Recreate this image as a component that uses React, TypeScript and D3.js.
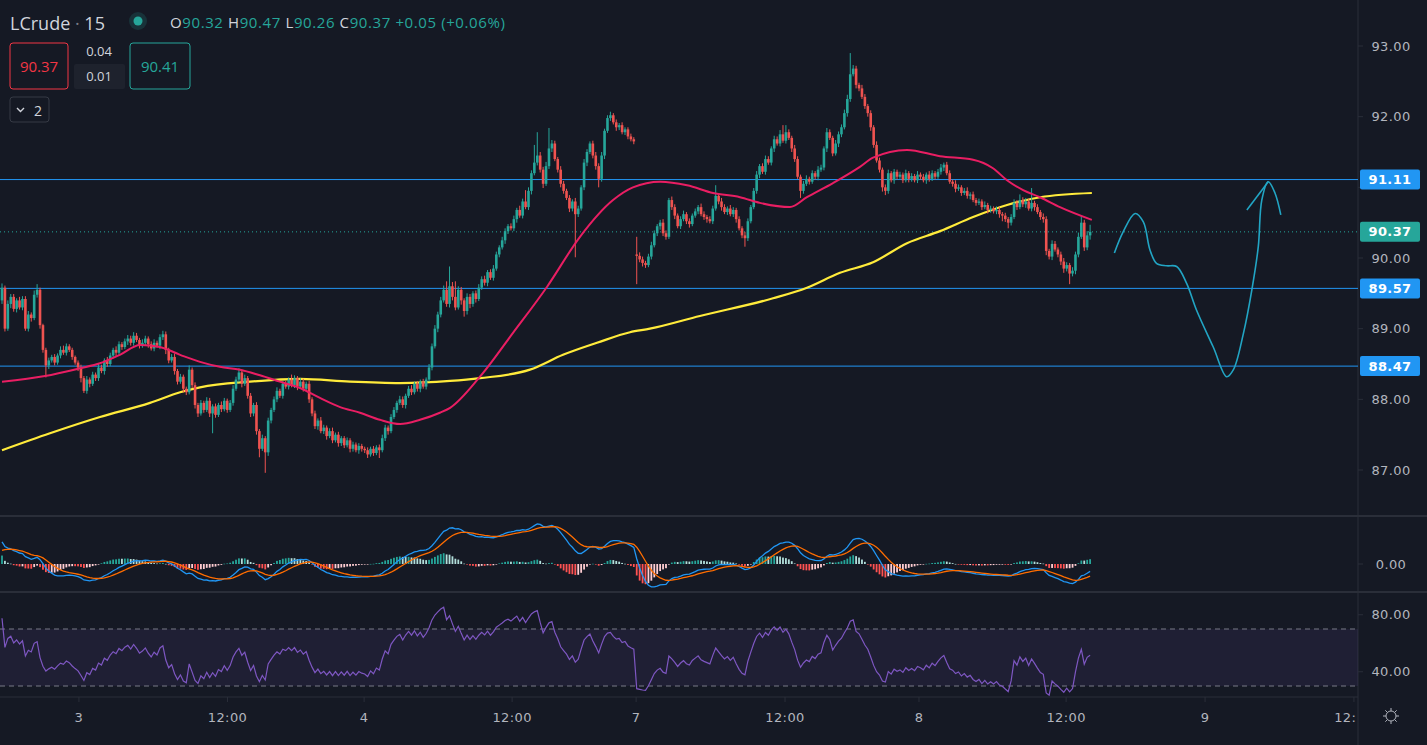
import * as React from 'react';
import * as d3 from 'd3';

// 15 min bars, one array per session (close, upper wick and lower wick in cents)
const firstOpen = 89.40;
const mondayOpen = 90.05;

const day2Close = [
  89.58, 89.00, 89.35, 89.45, 89.28, 89.40, 89.30, 89.42, 89.00, 89.20,
  89.15, 89.48, 89.55, 89.05, 88.70, 88.48, 88.55, 88.60, 88.52, 88.62,
  88.70, 88.66, 88.75, 88.70, 88.60, 88.52, 88.45];
const day2Up = [6,3,5,4,4,3,5,4,4,5, 3,6,8,3,2,3,4,3,4,3, 5,6,4,3,3,2,3];
const day2Down = [5,4,3,6,4,5,3,4,3,4, 5,3,4,5,4,17,5,3,4,3, 4,3,4,3,4,3,5];

const day3Close = [
  88.30, 88.12, 88.28, 88.22, 88.35, 88.30, 88.45, 88.40, 88.55, 88.50,
  88.62, 88.70, 88.66, 88.78, 88.74, 88.82, 88.86, 88.80, 88.90, 88.84,
  88.76, 88.80, 88.86, 88.78, 88.72, 88.80, 88.76, 88.88, 88.92, 88.70,
  88.55, 88.60, 88.40, 88.25, 88.32, 88.15, 88.10, 88.42, 88.20, 87.92,
  87.80, 87.95, 87.85, 87.98, 87.80, 87.90, 87.78, 87.92, 87.86, 87.98,
  87.85, 87.95, 88.15, 88.28, 88.38, 88.22, 88.30, 88.05, 87.80, 87.92,
  87.55, 87.30, 87.45, 87.25, 87.70, 87.85, 88.00, 88.12, 88.05, 88.22,
  88.18, 88.28, 88.20, 88.30, 88.18, 88.25, 88.15, 88.22, 88.00, 87.80,
  87.62, 87.70, 87.55, 87.60, 87.48, 87.55, 87.42, 87.50, 87.38, 87.45,
  87.35, 87.42, 87.30, 87.36, 87.28, 87.34, 87.30];
const day3Up = [
  4,3,5,3,4,3,5,4,3,5, 4,3,5,4,3,4,5,4,5,4, 3,5,4,3,4,5,3,4,5,4,
  3,4,5,3,4,3,3,6,3,4, 3,4,3,5,4,3,4,3,5,4, 3,4,5,4,6,4,5,3,4,3,
  4,3,5,3,4,3,4,5,3,4, 4,3,7,4,3,5,4,3,4,3, 4,3,5,4,3,4,5,3,4,3,
  3,4,3,4,3,4,3];
const day3Down = [
  6,3,4,5,3,4,4,3,5,4, 3,4,5,3,4,3,5,4,4,3, 4,3,4,5,3,4,3,5,4,6,
  4,3,5,4,3,5,4,3,4,5, 5,3,4,3,5,28,4,3,4,3, 4,3,4,3,4,5,3,4,5,4,
  5,12,3,29,5,4,3,4,3,4, 3,4,3,4,5,3,4,3,5,4, 4,5,3,4,5,3,4,3,5,4,
  4,3,5,4,3,5,4];

const day4Close = [
  87.28, 87.22, 87.30, 87.24, 87.32, 87.28, 87.45, 87.60, 87.55, 87.75,
  87.85, 87.95, 88.00, 87.92, 88.05, 88.15, 88.10, 88.22, 88.15, 88.25,
  88.18, 88.28, 88.45, 88.75, 89.00, 89.20, 89.40, 89.55, 89.35, 89.60,
  89.45, 89.30, 89.55, 89.40, 89.25, 89.45, 89.35, 89.50, 89.42, 89.58,
  89.70, 89.65, 89.80, 89.72, 89.85, 90.05, 90.15, 90.25, 90.38, 90.45,
  90.42, 90.55, 90.68, 90.60, 90.80, 90.72, 90.95, 91.20, 91.35, 91.45,
  91.25, 91.05, 91.30, 91.55, 91.62, 91.40, 91.25, 91.05, 90.95, 90.85,
  90.70, 90.80, 90.62, 90.70, 91.00, 91.35, 91.50, 91.62, 91.45, 91.30,
  91.12, 91.45, 91.80, 91.98, 92.02, 91.92, 91.85, 91.88, 91.78, 91.82,
  91.72, 91.68, 91.65];
const day4Up = [
  3,4,3,4,3,4,5,4,3,4, 4,3,5,4,3,4,5,3,4,3, 4,3,5,4,5,4,5,6,12,28,
  6,22,5,4,3,5,4,3,4,5, 4,5,3,4,5,4,3,5,4,3, 4,5,3,6,4,16,5,4,25,33,
  5,4,6,29,5,4,3,5,4,3, 4,3,5,4,3,5,4,3,4,5, 4,5,3,4,5,3,4,3,4,3,
  3,4,3];
const day4Down = [
  4,5,3,4,3,11,3,4,5,3, 3,4,3,4,5,3,4,3,4,5, 3,4,3,4,3,5,4,3,4,5,
  5,4,3,6,8,5,6,4,5,3, 3,4,5,3,4,3,4,3,5,4, 3,4,5,3,4,3,4,5,3,4,
  4,6,3,4,5,3,4,5,4,3, 5,4,61,4,3,4,5,3,4,5, 12,4,5,3,4,3,5,4,3,4,
  4,3,4];

const day7Close = [
  90.03, 89.98, 89.93, 89.90, 90.02, 90.18, 90.35, 90.45, 90.50, 90.35,
  90.30, 90.82, 90.72, 90.60, 90.45, 90.55, 90.62, 90.52, 90.48, 90.60,
  90.66, 90.72, 90.62, 90.58, 90.55, 90.52, 90.70, 90.88, 90.80, 90.72,
  90.65, 90.70, 90.62, 90.68, 90.55, 90.42, 90.32, 90.28, 90.52, 90.72,
  90.95, 91.18, 91.30, 91.22, 91.40, 91.35, 91.55, 91.68, 91.62, 91.75,
  91.66, 91.78, 91.70, 91.55, 91.40, 91.15, 90.95, 91.05, 91.12, 91.08,
  91.20, 91.15, 91.25, 91.28, 91.55, 91.78, 91.70, 91.48, 91.62, 91.75,
  91.85, 92.05, 92.25, 92.60, 92.68, 92.45, 92.40, 92.28, 92.15, 92.05,
  91.85, 91.60, 91.38, 91.25, 91.00, 90.95, 91.20, 91.10, 91.22, 91.15,
  91.18, 91.10, 91.20, 91.12, 91.16, 91.10, 91.18];
const day7Up = [
  25,5,4,3,4,5,4,3,4,5, 4,3,5,4,3,4,5,3,4,3, 4,3,5,4,3,4,4,15,3,5,
  4,3,5,4,3,4,3,5,4,3, 4,5,3,4,5,4,3,5,4,6, 13,10,4,3,5,4,3,4,5,3,
  4,3,5,4,3,6,4,3,5,4, 4,5,6,30,5,4,3,5,4,3, 4,3,5,4,3,4,5,3,4,3,
  4,3,5,3,4,3,5];
const day7Down = [
  40,4,5,4,3,4,3,4,5,4, 4,3,4,5,3,4,3,4,5,3, 3,4,3,4,5,3,4,3,4,5,
  3,4,3,4,5,3,4,12,4,3, 3,4,5,3,4,3,4,5,3,4, 3,4,3,5,4,3,10,4,3,4,
  3,4,5,3,4,5,3,4,3,5, 4,3,5,4,3,5,4,3,4,5, 5,4,3,4,6,6,4,3,5,4,
  3,4,3,5,4,3,4];

const day8Close = [
  91.15, 91.10, 91.18, 91.12, 91.20, 91.15, 91.22, 91.28, 91.32, 91.20,
  91.08, 91.05, 90.98, 91.00, 90.92, 90.95, 90.88, 90.90, 90.82, 90.78,
  90.80, 90.72, 90.75, 90.68, 90.70, 90.66, 90.68, 90.62, 90.60, 90.55,
  90.50, 90.58, 90.78, 90.72, 90.82, 90.76, 90.80, 90.70, 90.78, 90.72,
  90.65, 90.58, 90.55, 90.10, 90.02, 90.20, 90.12, 90.05, 89.95, 89.85,
  89.90, 89.78, 89.82, 90.05, 90.30, 90.50, 90.15, 90.32, 90.37];
const day8Up = [
  3,4,3,5,4,3,4,5,3,4, 4,3,5,4,3,4,5,3,4,3, 4,3,5,3,4,3,5,4,3,4,
  3,4,5,4,8,4,5,4,21,3, 4,3,5,4,3,5,4,3,4,5, 4,3,5,4,6,10,4,6,10];
const day8Down = [
  4,3,5,4,3,4,3,4,5,3, 3,4,5,3,4,3,4,5,3,4, 3,4,3,5,4,3,4,5,8,4,
  8,4,3,4,3,4,5,3,4,5, 3,4,5,6,4,5,3,4,5,6, 4,15,4,5,4,3,5,4,6];

// moving averages: [bar index, price]
const emaFast: [number, number][] = [
  [0, 88.25], [14.7, 88.33], [26.7, 88.44], [33.5, 88.51], [40.3, 88.63], [47.2, 88.77],
  [54, 88.74], [60.9, 88.63], [67.7, 88.53], [74.5, 88.46], [81.4, 88.42], [88.2, 88.34],
  [95, 88.25], [101.9, 88.16], [108.7, 88.02], [115.6, 87.89], [122.4, 87.81], [129.2, 87.71],
  [136.1, 87.65], [142.9, 87.71], [149.7, 87.81], [153.2, 87.88], [163.4, 88.32], [174.7, 88.94],
  [186.3, 89.59], [197.6, 90.30], [208.9, 90.82], [215.7, 91.0], [225, 91.08], [234.2, 91.03],
  [243.1, 90.92], [252.3, 90.86], [259.1, 90.78], [269.4, 90.72], [275.2, 90.86], [284.1, 91.06],
  [293.3, 91.29], [297.8, 91.42], [309.4, 91.53], [320.7, 91.44], [332, 91.39], [338.8, 91.27],
  [343.6, 91.10], [349.1, 90.96], [354.9, 90.86], [361.7, 90.72], [372.6, 90.54]];
const emaSlow: [number, number][] = [
  [0, 87.28], [16.4, 87.52], [33.5, 87.75], [50.6, 87.95], [60.9, 88.10], [67.7, 88.17],
  [84.8, 88.25], [101.9, 88.29], [119, 88.25], [136.1, 88.23], [153.2, 88.26], [163.4, 88.30],
  [180.5, 88.42], [191.8, 88.63], [203.4, 88.80], [214.7, 88.95], [221.5, 89.0], [238.6, 89.18],
  [263.6, 89.43], [275.2, 89.58], [286.5, 89.79], [297.8, 89.94], [309.4, 90.21], [320.7, 90.38],
  [332, 90.58], [343.6, 90.75], [354.9, 90.86], [372.6, 90.92]];

// hand drawn forecast
const sketch: [number, number][] = [
  [380.3, 90.07], [383.3, 90.37], [387.4, 90.63], [390.2, 90.51], [392.5, 90.11], [394.8, 89.92],
  [398.2, 89.89], [401.6, 89.88], [405.0, 89.64], [408.4, 89.26], [414.1, 88.74], [418.7, 88.32],
  [421.0, 88.42], [424.4, 88.93], [427.3, 89.55], [429.5, 90.16], [430.7, 90.82], [432.9, 91.08],
  [435.2, 90.92], [437.2, 90.61]];
const sketchArrow: [number, number][] = [[425.6, 90.68], [432.9, 91.08]];

const levels = [91.11, 89.57, 88.47];
const lastPrice = 90.37;
const priceTicks = [87, 88, 89, 90, 91, 92, 93];
const rsiTicks = [80, 40];
const rsiBands = [70, 30];
const timeTicks: [number, string][] = [
  [26.3, '3'], [77.1, '12:00'], [123.8, '4'], [174.4, '12:00'], [216.8, '7'],
  [267.7, '12:00'], [313.5, '8'], [363.8, '12:00'], [411.3, '9'], [462.2, '12:00']];

// indicator seeds (state before the first visible bar)
const macdSeed = [89.45, 89.15, 0.15];
const rsiSeed = [0.09, 0.03];

const BG = '#151924';
const GRID = '#2a2e39';
const UP = '#26a69a';
const DOWN = '#ef5350';
const TEXT = '#b2b5be';
const AXIS_FONT = '"DejaVu Sans", sans-serif';
const UI_FONT = '"Open Sans", sans-serif';

const W = 1427;
const H = 745;
const AXIS_X = 1358;
const PRICE_BOTTOM = 516;
const MACD_TOP = 517;
const MACD_BOTTOM = 592;
const RSI_TOP = 593;
const RSI_BOTTOM = 697;

type Bar = { i: number; o: number; h: number; l: number; c: number };

const sessions = [
  { open: firstOpen, close: day2Close, up: day2Up, down: day2Down },
  { open: null, close: day3Close, up: day3Up, down: day3Down },
  { open: null, close: day4Close, up: day4Up, down: day4Down },
  { open: mondayOpen, close: day7Close, up: day7Up, down: day7Down },
  { open: null, close: day8Close, up: day8Up, down: day8Down },
];

function buildBars(): Bar[] {
  const out: Bar[] = [];
  let prev = firstOpen;
  sessions.forEach((s) => {
    s.close.forEach((c, k) => {
      const o = k === 0 && s.open != null ? s.open : prev;
      out.push({
        i: out.length, o, c,
        h: Math.max(o, c) + s.up[k] / 100,
        l: Math.min(o, c) - s.down[k] / 100,
      });
      prev = c;
    });
  });
  return out;
}

const App: React.FC = () => {
  const bars = React.useMemo(buildBars, []);

  const x = d3.scaleLinear().domain([0, 464]).range([2, 2 + 464 * 2.925]);
  const y = d3.scaleLinear().domain([87, 93]).range([470, 46]);
  const yRsi = d3.scaleLinear().domain([30, 70]).range([686, 629]);

  // MACD 12/26/9 and RSI 14 from the closes
  const ind = React.useMemo(() => {
    let e12 = macdSeed[0], e26 = macdSeed[1], sig = macdSeed[2];
    let ag = rsiSeed[0], al = rsiSeed[1];
    let prev = firstOpen;
    return bars.map((b) => {
      e12 += (2 / 13) * (b.c - e12);
      e26 += (2 / 27) * (b.c - e26);
      const m = e12 - e26;
      sig += (2 / 10) * (m - sig);
      const ch = b.c - prev;
      ag = (ag * 13 + Math.max(ch, 0)) / 14;
      al = (al * 13 + Math.max(-ch, 0)) / 14;
      prev = b.c;
      return { i: b.i, macd: m, signal: sig, hist: m - sig, rsi: 100 - 100 / (1 + ag / al) };
    });
  }, [bars]);

  const macdMax = d3.max(ind, (d) => Math.max(d.macd, d.signal)) as number;
  const yMacd = d3.scaleLinear().domain([0, macdMax]).range([564, 524]);

  const maLine = d3.line<[number, number]>().x((d) => x(d[0])).y((d) => y(d[1])).curve(d3.curveMonotoneX);
  const sketchLine = d3.line<[number, number]>().x((d) => x(d[0])).y((d) => y(d[1])).curve(d3.curveCatmullRom);
  const indLine = (key: 'macd' | 'signal') =>
    d3.line<typeof ind[number]>().x((d) => x(d.i)).y((d) => yMacd(d[key]))(ind) || '';
  const rsiLine = d3.line<typeof ind[number]>().x((d) => x(d.i)).y((d) => yRsi(d.rsi))(ind) || '';

  const histColor = (k: number) => {
    const h = ind[k].hist;
    const p = k > 0 ? ind[k - 1].hist : h;
    if (h >= 0) return h >= p ? '#26a69a' : '#b2dfdb';
    return h < p ? '#ff5252' : '#ffcdd2';
  };

  // axis labels hidden behind a price tag
  const tags = [...levels, lastPrice];
  const visibleTicks = priceTicks.filter((p) => tags.every((t) => Math.abs(y(p) - y(t)) > 15));

  const gear = d3.range(8).map((k) => (k * Math.PI) / 4);

  return (
    <svg width={W} height={H} style={{ position: 'fixed', left: 0, top: 0, display: 'block', background: BG }}>
      <defs>
        <clipPath id="pricePane"><rect x={0} y={0} width={AXIS_X} height={PRICE_BOTTOM} /></clipPath>
        <clipPath id="macdPane"><rect x={0} y={MACD_TOP} width={AXIS_X} height={MACD_BOTTOM - MACD_TOP} /></clipPath>
        <clipPath id="rsiPane"><rect x={0} y={RSI_TOP} width={AXIS_X} height={RSI_BOTTOM - RSI_TOP} /></clipPath>
        <clipPath id="timeAxis"><rect x={0} y={RSI_BOTTOM} width={AXIS_X - 2} height={H - RSI_BOTTOM} /></clipPath>
      </defs>
      <rect width={W} height={H} fill={BG} />

      {/* pane separators */}
      <line x1={0} x2={W} y1={PRICE_BOTTOM} y2={PRICE_BOTTOM} stroke={GRID} strokeWidth={2} />
      <line x1={0} x2={W} y1={MACD_BOTTOM} y2={MACD_BOTTOM} stroke={GRID} strokeWidth={2} />
      <line x1={0} x2={AXIS_X} y1={RSI_BOTTOM} y2={RSI_BOTTOM} stroke={GRID} />
      <line x1={AXIS_X} x2={AXIS_X} y1={0} y2={H} stroke={GRID} />

      {/* price pane */}
      <g clipPath="url(#pricePane)">
        {levels.map((p) => (
          <line key={p} x1={0} x2={AXIS_X} y1={y(p)} y2={y(p)} stroke="#2196f3" strokeWidth={1} />
        ))}
        <line x1={0} x2={AXIS_X} y1={y(lastPrice)} y2={y(lastPrice)} stroke={UP} strokeDasharray="1 3" />
        <path d={maLine(emaSlow) || ''} fill="none" stroke="#ffeb3b" strokeWidth={2.2} />
        {bars.map((b) => {
          const col = b.c >= b.o ? UP : DOWN;
          const top = y(Math.max(b.o, b.c));
          const bot = y(Math.min(b.o, b.c));
          return (
            <g key={b.i}>
              <line x1={x(b.i)} x2={x(b.i)} y1={y(b.h)} y2={y(b.l)} stroke={col} strokeWidth={1} />
              <rect x={x(b.i) - 1.3} y={top} width={2.6} height={Math.max(1, bot - top)} fill={col} />
            </g>
          );
        })}
        <path d={maLine(emaFast) || ''} fill="none" stroke="#e91e63" strokeWidth={2} />
        <path d={sketchLine(sketch) || ''} fill="none" stroke="#22a5c4" strokeWidth={1.6} />
        <path d={sketchLine(sketchArrow) || ''} fill="none" stroke="#22a5c4" strokeWidth={1.6} />
      </g>

      {/* MACD pane */}
      <g clipPath="url(#macdPane)">
        {ind.map((d, k) => (
          <rect key={d.i} x={x(d.i) - 0.9} width={1.8}
            y={Math.min(yMacd(0), yMacd(d.hist))} height={Math.max(0.6, Math.abs(yMacd(d.hist) - yMacd(0)))}
            fill={histColor(k)} />
        ))}
        <path d={indLine('macd')} fill="none" stroke="#2196f3" strokeWidth={1.3} />
        <path d={indLine('signal')} fill="none" stroke="#ff6d00" strokeWidth={1.3} />
      </g>

      {/* RSI pane */}
      <g clipPath="url(#rsiPane)">
        <rect x={0} width={AXIS_X} y={yRsi(rsiBands[0])} height={yRsi(rsiBands[1]) - yRsi(rsiBands[0])} fill="#7e57c2" fillOpacity={0.1} />
        {rsiBands.map((v) => (
          <line key={v} x1={0} x2={AXIS_X} y1={yRsi(v)} y2={yRsi(v)} stroke="#787b86" strokeDasharray="5 4" />
        ))}
        <path d={rsiLine} fill="none" stroke="#7e57c2" strokeWidth={1.2} />
      </g>

      {/* right axis */}
      <g fontFamily={AXIS_FONT} fontSize={13} fill={TEXT} letterSpacing={0.4}>
        {priceTicks.map((p) => (
          <line key={p} x1={AXIS_X} x2={AXIS_X + 5} y1={y(p)} y2={y(p)} stroke={GRID} />
        ))}
        {visibleTicks.map((p) => (
          <text key={p} x={1391} y={y(p)} textAnchor="middle" dominantBaseline="central">{p.toFixed(2)}</text>
        ))}
        <line x1={AXIS_X} x2={AXIS_X + 5} y1={yMacd(0)} y2={yMacd(0)} stroke={GRID} />
        <text x={1391} y={yMacd(0)} textAnchor="middle" dominantBaseline="central">0.00</text>
        {rsiTicks.map((v) => (
          <g key={v}>
            <line x1={AXIS_X} x2={AXIS_X + 5} y1={yRsi(v)} y2={yRsi(v)} stroke={GRID} />
            <text x={1391} y={yRsi(v)} textAnchor="middle" dominantBaseline="central">{v.toFixed(2)}</text>
          </g>
        ))}
        {levels.map((p) => (
          <g key={p}>
            <rect x={AXIS_X + 2} y={y(p) - 10} width={60} height={20} rx={2} fill="#2196f3" />
            <text x={1390} y={y(p)} textAnchor="middle" dominantBaseline="central" fill="#fff" fontWeight="bold">{p.toFixed(2)}</text>
          </g>
        ))}
        <rect x={AXIS_X + 2} y={y(lastPrice) - 10} width={60} height={20} rx={2} fill={UP} />
        <text x={1390} y={y(lastPrice)} textAnchor="middle" dominantBaseline="central" fill="#fff" fontWeight="bold">{lastPrice.toFixed(2)}</text>
      </g>

      {/* time axis */}
      <g clipPath="url(#timeAxis)" fontFamily={AXIS_FONT} fontSize={13} fill={TEXT} letterSpacing={0.4}>
        {timeTicks.map(([i, t]) => (
          <g key={i}>
            <line x1={x(i)} x2={x(i)} y1={RSI_BOTTOM} y2={RSI_BOTTOM + 5} stroke={GRID} />
            <text x={x(i)} y={717} textAnchor="middle" dominantBaseline="central">{t}</text>
          </g>
        ))}
      </g>
      <g stroke={TEXT} fill="none" strokeWidth={1}>
        <circle cx={1391} cy={716} r={5} />
        {gear.map((a) => (
          <line key={a} x1={1391 + 5 * Math.cos(a)} y1={716 + 5 * Math.sin(a)} x2={1391 + 8 * Math.cos(a)} y2={716 + 8 * Math.sin(a)} />
        ))}
      </g>

      {/* legend */}
      <g fontFamily={UI_FONT}>
        <text x={10} y={23} fontSize={18} dominantBaseline="central" fill="#d1d4dc">
          LCrude<tspan fill="#787b86"> · </tspan>15
        </text>
        <circle cx={138} cy={21} r={9} fill={UP} fillOpacity={0.18} />
        <circle cx={138} cy={21} r={4.5} fill={UP} />
        <text x={170} y={22} fontSize={15} letterSpacing={0.6} dominantBaseline="central" fill="#d1d4dc">
          O<tspan fill={UP}>90.32</tspan> H<tspan fill={UP}>90.47</tspan> L<tspan fill={UP}>90.26</tspan> C<tspan fill={UP}>90.37</tspan>
          <tspan fill={UP}> +0.05 (+0.06%)</tspan>
        </text>
        <rect x={10} y={43} width={58} height={46} rx={3} fill="none" stroke="#f23645" />
        <text x={39} y={66} fontSize={15} textAnchor="middle" dominantBaseline="central" fill="#f23645">90.37</text>
        <rect x={74} y={64} width={51} height={25} rx={2} fill="#1e222d" />
        <text x={99} y={51} fontSize={13} textAnchor="middle" dominantBaseline="central" fill="#d1d4dc">0.04</text>
        <text x={99} y={76} fontSize={13} textAnchor="middle" dominantBaseline="central" fill="#d1d4dc">0.01</text>
        <rect x={130} y={43} width={60} height={46} rx={3} fill="none" stroke={UP} />
        <text x={160} y={66} fontSize={15} textAnchor="middle" dominantBaseline="central" fill={UP}>90.41</text>
        <rect x={10} y={97} width={39} height={25} rx={3} fill="none" stroke="#363a45" />
        <path d="M17,108 L20.5,111.5 L24,108" fill="none" stroke="#d1d4dc" strokeWidth={1.4} />
        <text x={38} y={110} fontSize={14} textAnchor="middle" dominantBaseline="central" fill="#d1d4dc">2</text>
      </g>
    </svg>
  );
};

export default App;
